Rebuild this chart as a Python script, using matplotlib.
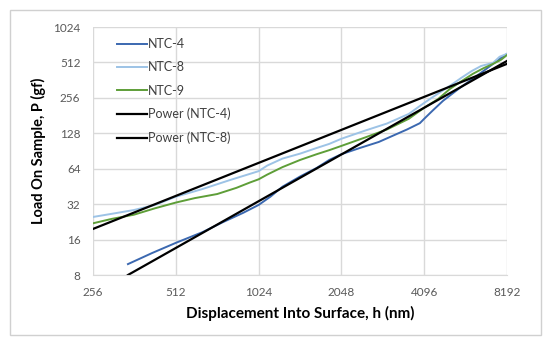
import numpy as np
import matplotlib.pyplot as plt
from matplotlib.patches import Rectangle

# data (h in nm, P in gf)
ntc4_h = [343, 420, 512, 640, 760, 900, 1024, 1130, 1250, 1450, 1665, 1850, 2048, 2390, 2800, 3150, 3550, 3950, 4096, 4400, 4800, 5520, 6160, 6700, 7290, 7800, 8192]
ntc4_p = [9.9, 12.3, 15, 18.5, 22.5, 27, 31.5, 37, 45, 55, 65, 76, 85, 96, 108, 122, 138, 156, 170, 200, 242, 311, 373, 430, 498, 560, 605]

ntc8_h = [256, 300, 360, 430, 512, 640, 800, 1024, 1100, 1250, 1450, 1665, 1850, 2048, 2500, 3000, 3600, 4096, 4400, 5080, 5600, 6100, 6600, 7290, 7700, 8192]
ntc8_p = [24.9, 26.5, 28.5, 31.5, 37, 43, 51, 61, 68, 78, 86, 96, 104, 115, 135, 155, 187, 232, 260, 324, 380, 433, 478, 508, 572, 606]

ntc9_h = [256, 300, 360, 430, 512, 600, 724, 850, 955, 1024, 1100, 1250, 1450, 1665, 1850, 2048, 2500, 3000, 3600, 4096, 4600, 5080, 5600, 6160, 6700, 7290, 7800, 8192]
ntc9_p = [22, 24, 26, 29.5, 33, 36, 39, 44, 49, 52, 57, 66, 76, 85, 92, 100, 118, 138, 170, 211, 250, 305, 355, 410, 455, 498, 540, 592]

# power trendlines (straight on log-log), end points
pow4_h = [343, 8192]
pow4_p = [8, 527]
pow8_h = [256, 8192]
pow8_p = [19.7, 498]

xticks = [256, 512, 1024, 2048, 4096, 8192]
yticks = [8, 16, 32, 64, 128, 256, 512, 1024]

plt.rcParams['font.family'] = ['Lato', 'DejaVu Sans']

fig = plt.figure(figsize=(5.5, 3.43), dpi=100)
fig.patches.append(Rectangle((10/550, 8/343), 531/550, 325/343, transform=fig.transFigure,
                             fill=False, edgecolor='#d0d0d0', linewidth=1))
ax = fig.add_axes([93/550, 1-275/343, 414/550, 248/343])

ax.plot(ntc4_h, ntc4_p, color='#3b68b0', linewidth=1.4, label='NTC-4')
ax.plot(ntc8_h, ntc8_p, color='#9dc3e6', linewidth=1.4, label='NTC-8')
ax.plot(ntc9_h, ntc9_p, color='#5e9e38', linewidth=1.4, label='NTC-9')
ax.plot(pow4_h, pow4_p, color='black', linewidth=1.6, label='Power (NTC-4)')
ax.plot(pow8_h, pow8_p, color='black', linewidth=1.6, label='Power (NTC-8)')

ax.set_xscale('log', base=2)
ax.set_yscale('log', base=2)
ax.set_xlim(256, 8192)
ax.set_ylim(8, 1024)
ax.set_xticks(xticks)
ax.set_xticklabels([str(t) for t in xticks])
ax.set_yticks(yticks)
ax.set_yticklabels([str(t) for t in yticks])
ax.minorticks_off()
ax.grid(True, color='#d9d9d9', linewidth=1)
ax.set_axisbelow(True)
for s in ax.spines.values():
    s.set_visible(False)
ax.spines['bottom'].set_visible(True)
ax.spines['bottom'].set_color('#d9d9d9')
ax.tick_params(length=0, labelsize=8.5, labelcolor='#595959', pad=9)

ax.set_xlabel('Displacement Into Surface, h (nm)', fontsize=11, fontweight='bold', labelpad=5)
ax.set_ylabel('Load On Sample, P (gf)', fontsize=10.5, fontweight='bold', labelpad=5)

leg = ax.legend(loc='upper left', bbox_to_anchor=(0.045, 0.975), frameon=False, fontsize=9,
                handlelength=2.4, handletextpad=0.1, labelspacing=0.9, borderaxespad=0)
for t in leg.get_texts():
    t.set_color('#404040')

fig.savefig('out.png', dpi=100)
